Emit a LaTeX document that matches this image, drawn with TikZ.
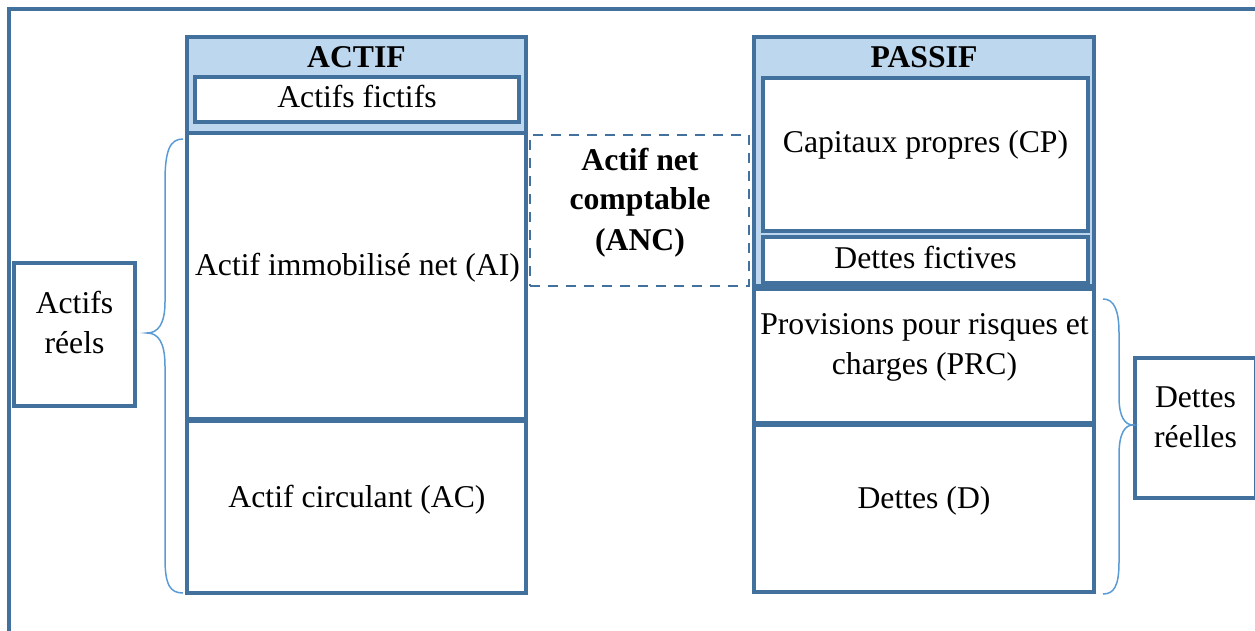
\documentclass[tikz,border=0pt]{standalone}
\usepackage{fontspec}
\setmainfont{Liberation Serif}
\definecolor{BoxClr}{rgb}{0.2549,0.4431,0.6118}
\definecolor{HeadClr}{rgb}{0.7412,0.8431,0.9333}
\definecolor{BraceClr}{rgb}{0.3569,0.6078,0.8353}

\begin{document}
\begin{tikzpicture}[x=1pt,y=-1pt,
  cell/.style={rectangle,draw=BoxClr,line width=3.2pt,fill=white,inner sep=0pt,outer sep=0pt},
  head/.style={cell,fill=HeadClr},
  ancbox/.style={cell,fill=none,line width=2.8pt,dash pattern=on 10pt off 8pt},
  txt/.style={inner sep=0pt,align=center,anchor=base,font=\fontsize{31.7}{40}\selectfont},
  bold/.style={txt,font=\fontsize{31.7}{40}\selectfont\bfseries},
  brace/.style={draw=BraceClr,line width=1.5pt}]

\useasboundingbox (0,0) rectangle (1255,631);
\clip (0,0) rectangle (1255,631);

\coordinate (frameB) at (9,660);
\coordinate (frameC) at (9,9);
\coordinate (frameR) at (1280,9);
\draw[draw=BoxClr,line width=3.4pt] (frameB) -- (frameC) -- (frameR);

\node[head,minimum width=339,minimum height=96] (actifH) at (356.5,85) {};
\node[cell,minimum width=324,minimum height=45] (fictA) at (357,99.5) {};
\node[cell,minimum width=339,minimum height=286] (ai) at (356.5,276) {};
\node[cell,minimum width=339,minimum height=172] (ac) at (356.5,507) {};

\node[ancbox,minimum width=219,minimum height=151] (anc) at (639.5,210.5) {};

\node[head,minimum width=340,minimum height=249] (passifH) at (924,161.5) {};
\node[cell,minimum width=325,minimum height=153] (cp) at (925.5,154.5) {};
\node[cell,minimum width=325,minimum height=46] (fictP) at (925.5,260) {};
\node[cell,minimum width=340,minimum height=134] (prc) at (924,356) {};
\node[cell,minimum width=340,minimum height=167] (dettes) at (924,508.5) {};

\node[cell,minimum width=121,minimum height=143] (reelA) at (74.5,334.5) {};
\node[cell,minimum width=121,minimum height=140] (reelP) at (1195.5,428) {};

\node[bold] (actifT) at (356.5,68) {ACTIF};
\node[txt] (fictAT) at (357,108) {Actifs fictifs};
\node[txt] (aiT) at (357.5,275) {Actif immobilisé net (AI)};
\node[txt] (acT) at (357,507) {Actif circulant (AC)};

\node[bold] (ancT) at (640,250) {Actif net\\comptable\\(ANC)};

\node[bold] (passifT) at (924,68) {PASSIF};
\node[txt] (cpT) at (925.5,153) {Capitaux propres (CP)};
\node[txt] (fictPT) at (925.5,268) {Dettes fictives};
\node[txt] (prcT) at (924.5,374) {Provisions pour risques et\\charges (PRC)};
\node[txt] (dettesT) at (924,508) {Dettes (D)};

\node[txt] (reelAT) at (74.5,353) {Actifs\\réels};
\node[txt] (reelPT) at (1195.5,447) {Dettes\\réelles};

\coordinate (lbT) at (183,139);
\coordinate (lbM) at (147,333);
\coordinate (lbB) at (183,593);
\draw[brace] (lbT) .. controls (170,139) and (165,150) .. (165,182) -- (165,302)
  .. controls (165,324) and (158,333) .. (lbM)
  .. controls (158,333) and (165,342) .. (165,366) -- (165,558)
  .. controls (165,585) and (170,593) .. (lbB);

\coordinate (rbT) at (1103,299);
\coordinate (rbM) at (1133,425);
\coordinate (rbB) at (1103,594);
\draw[brace] (rbT) .. controls (1114,299) and (1119,310) .. (1119,333) -- (1119,397)
  .. controls (1119,417) and (1125,425) .. (rbM)
  .. controls (1125,425) and (1119,433) .. (1119,455) -- (1119,562)
  .. controls (1119,586) and (1114,594) .. (rbB);

\end{tikzpicture}
\end{document}
